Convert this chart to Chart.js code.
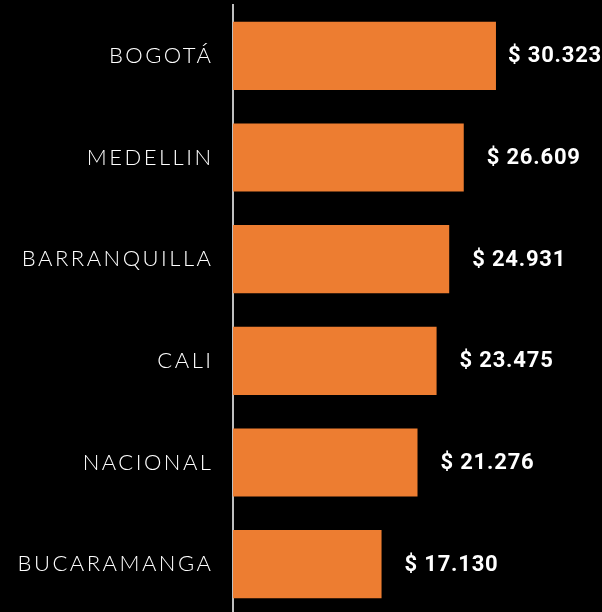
<!DOCTYPE html>
<html>
<head>
<meta charset="utf-8">
<script src="https://cdn.jsdelivr.net/npm/chart.js@4"></script>
<style>
  html, body { margin: 0; padding: 0; background: #000; overflow: hidden; }
  #wrap { width: 602px; height: 615px; }
</style>
</head>
<body>
<div id="wrap"><canvas id="chart" width="602" height="615"></canvas></div>
<script>
// datos
const ciudades = ["BOGOTÁ", "MEDELLIN", "BARRANQUILLA", "CALI", "NACIONAL", "BUCARAMANGA"];
const valores = [30323, 26609, 24931, 23475, 21276, 17130];

function formato(v) {
  return "$ " + v.toLocaleString("de-DE");
}

// nombres de ciudad (con espaciado) y etiquetas de valor
const etiquetas = {
  id: "etiquetas",
  afterDatasetsDraw(chart) {
    const ctx = chart.ctx;
    const meta = chart.getDatasetMeta(0);
    const ejeY = chart.scales.y;
    ctx.save();
    ctx.fillStyle = "#ffffff";
    ctx.textBaseline = "middle";

    // ciudades
    const esp = 2.5;
    ctx.font = "300 22px Lato";
    ctx.letterSpacing = esp + "px";
    ctx.textAlign = "left";
    ciudades.forEach((c, i) => {
      const w = ctx.measureText(c).width - esp;
      const y = ejeY.getPixelForValue(i);
      ctx.fillText(c, ejeY.right - 22 - w, y);
    });

    // valores
    ctx.font = "bold 22px Roboto";
    ctx.letterSpacing = "0.8px";
    meta.data.forEach((bar, i) => {
      const txt = formato(valores[i]);
      const w = ctx.measureText(txt).width;
      const x = Math.min(bar.x + 23, chart.width - w);
      ctx.fillText(txt, x, bar.y + 1);
    });
    ctx.restore();
  }
};

new Chart(document.getElementById("chart"), {
  type: "bar",
  data: {
    labels: ciudades,
    datasets: [{
      data: valores,
      backgroundColor: "#ED7D31",
      borderWidth: 0,
      categoryPercentage: 1,
      barPercentage: 0.67
    }]
  },
  options: {
    indexAxis: "y",
    responsive: false,
    animation: false,
    layout: { autoPadding: false, padding: { top: 5, right: 0, bottom: 0, left: 0 } },
    plugins: {
      legend: { display: false },
      tooltip: { enabled: false }
    },
    scales: {
      x: {
        display: false,
        min: 0,
        max: 42550
      },
      y: {
        afterFit: (s) => { s.width = 233; },
        grid: { display: true, drawOnChartArea: false, drawTicks: false },
        border: { display: true, color: "#bfbfbf", width: 2 },
        ticks: { display: false }
      }
    }
  },
  plugins: [etiquetas]
});
</script>
</body>
</html>
